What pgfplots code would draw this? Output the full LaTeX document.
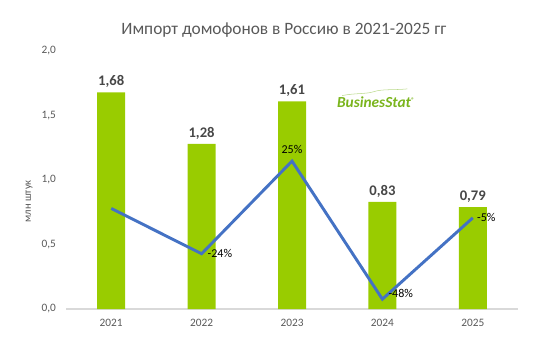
\documentclass[border=0pt]{standalone}
\usepackage{pgfplots}
\pgfplotsset{compat=1.18}
\usepackage{fontspec}
\setmainfont{Carlito}
\definecolor{bargreen}{HTML}{99CC00}
\definecolor{lineblue}{HTML}{4472C4}
\definecolor{txtgray}{HTML}{595959}
\definecolor{axgray}{HTML}{D9D9D9}
\definecolor{logogreen}{HTML}{7AB51D}
\begin{document}
\begin{tikzpicture}
\path[use as bounding box] (-49.5pt,-31.5pt) rectangle (366.75pt,231.75pt);
\begin{axis}[
  at={(0,0)}, anchor=south west,
  scale only axis, width=339pt, height=193.5pt,
  xmin=-0.5, xmax=4.5, ymin=0, ymax=2,
  xtick={0,1,2,3,4}, xticklabels={2021,2022,2023,2024,2025},
  ytick={0,0.5,1,1.5,2},
  yticklabel={\pgfmathprintnumber[fixed,fixed zerofill,precision=1,use comma]{\tick}},
  /pgf/number format/assume math mode=true,
  tick label style={font=\fontsize{8.5pt}{10pt}\selectfont, text=txtgray},
  axis x line*=bottom, axis y line*=left,
  x axis line style={axgray, line width=0.8pt, -},
  y axis line style={draw=none},
  xtick style={draw=none}, ytick style={draw=none},
  xticklabel style={yshift=-4pt},
  yticklabel style={xshift=-4pt},
  ylabel={млн штук},
  every axis y label/.style={at={(ticklabel cs:0.5)}, rotate=90, anchor=south, xshift=-16pt, font=\fontsize{8pt}{9pt}\selectfont, text=txtgray},
  title={Импорт домофонов в Россию в 2021-2025 гг},
  title style={font=\fontsize{13pt}{15pt}\selectfont, text=txtgray, at={(0.482,1)}, yshift=1pt, anchor=south},
  clip=false,
]
\addplot[ybar, bar width=21pt, fill=bargreen, draw=none,
  nodes near coords={\pgfmathprintnumber[fixed,fixed zerofill,precision=2,use comma]{\pgfplotspointmeta}},
  every node near coord/.append style={font=\bfseries\fontsize{11pt}{13pt}\selectfont, text=txtgray!80!black, yshift=0pt}]
  coordinates {(0,1.68) (1,1.28) (2,1.61) (3,0.83) (4,0.79)};
% logo
\node[font=\bfseries\itshape\fontsize{11.5pt}{13pt}\selectfont, text=logogreen, inner sep=0pt] (logo) at (axis cs:2.93,1.60) {BusinesStat\textsuperscript{\tiny ®}};
\draw[logogreen!50, line width=0.4pt] ([xshift=4pt,yshift=1pt]logo.north west) .. controls +(10pt,2pt) and +(-6pt,-2pt) .. ([xshift=28pt,yshift=4pt]logo.north west) .. controls +(6pt,2pt) and +(-10pt,-1pt) .. ([xshift=-6pt,yshift=6pt]logo.north east);
\end{axis}
\begin{axis}[
  at={(0,0)}, anchor=south west,
  scale only axis, width=339pt, height=193.5pt,
  xmin=-0.5, xmax=4.5, ymin=-53.2, ymax=83.2,
  axis lines=none, ticks=none, clip=false,
]
\addplot[lineblue, line width=2.2pt, line join=miter] coordinates {(0,0) (1,-24) (2,25) (3,-48) (4,-5)};
\node[font=\fontsize{9pt}{10pt}\selectfont, anchor=west, inner sep=1pt] at (axis cs:1.05,-24) {-24\%};
\node[font=\fontsize{9pt}{10pt}\selectfont, anchor=south, inner sep=1pt] at (axis cs:2,28) {25\%};
\node[font=\fontsize{9pt}{10pt}\selectfont, anchor=west, inner sep=1pt] at (axis cs:3.05,-45) {-48\%};
\node[font=\fontsize{9pt}{10pt}\selectfont, anchor=west, inner sep=1pt] at (axis cs:4.03,-5) {-5\%};
\end{axis}
\end{tikzpicture}
\end{document}
